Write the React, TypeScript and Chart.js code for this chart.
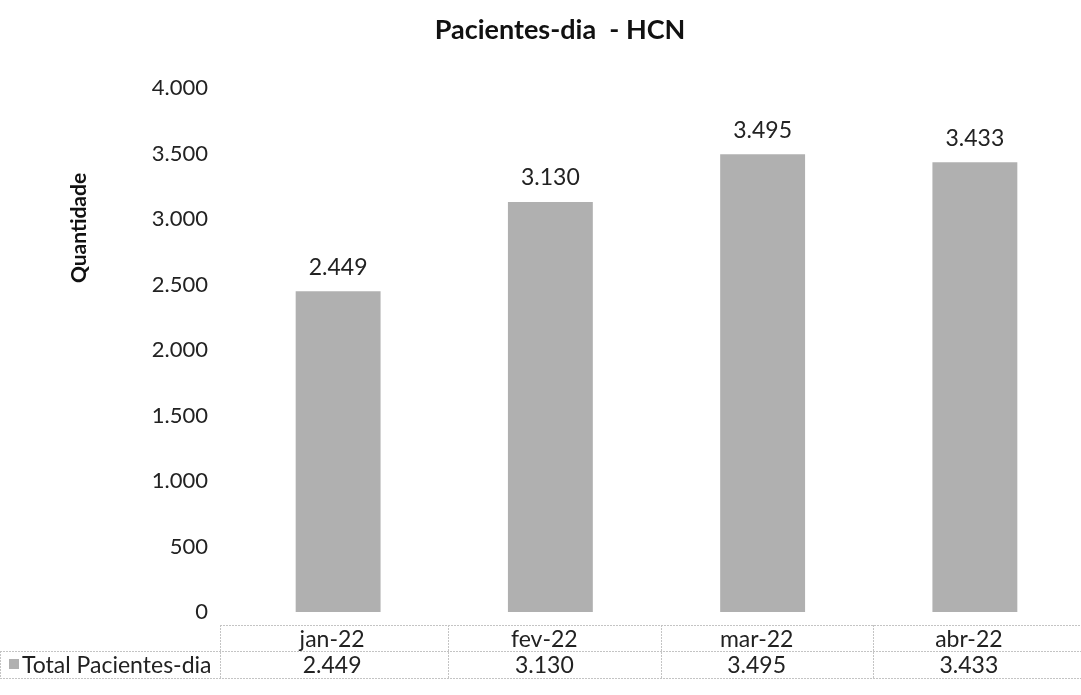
import React, { useEffect, useRef } from "react";
import { Chart, registerables } from "chart.js";

Chart.register(...registerables);

const categories = ["jan-22", "fev-22", "mar-22", "abr-22"];
const seriesName = "Total Pacientes-dia";
const values = [2449, 3130, 3495, 3433];
const titleText = "Pacientes-dia  - HCN";
const yAxisTitle = "Quantidade";
const yMax = 4000;
const yStep = 500;

const FONT = "Lato, 'Open Sans', 'DejaVu Sans', sans-serif";
const BAR = "#b0b0b0";

const fmt = (v: number) => {
  const s = Math.round(v).toString();
  return s.replace(/\B(?=(\d{3})+(?!\d))/g, ".");
};

const overlay = {
  id: "overlay",
  afterDraw(chart: any) {
    const { ctx, chartArea, width } = chart;
    const meta = chart.getDatasetMeta(0);
    const xs = chart.scales.x;
    ctx.save();
    // title
    ctx.fillStyle = "#111";
    ctx.font = `bold 27px ${FONT}`;
    ctx.textAlign = "center";
    ctx.textBaseline = "middle";
    ctx.fillText(titleText, 560, 30);
    // y title
    ctx.save();
    ctx.translate(79, 228);
    ctx.rotate(-Math.PI / 2);
    ctx.font = `bold 21px ${FONT}`;
    ctx.fillText(yAxisTitle, 0, 0);
    ctx.restore();
    // data labels
    ctx.font = `23px ${FONT}`;
    ctx.fillStyle = "#222";
    meta.data.forEach((el: any, i: number) => {
      ctx.fillText(fmt(values[i]), el.x, el.y - 24);
    });
    // table
    const step = (chartArea.right - chartArea.left) / categories.length;
    const yTop = 625, yMid = 651, yBot = 678;
    ctx.strokeStyle = "#c4c4c4";
    ctx.lineWidth = 1;
    ctx.setLineDash([2, 1]);
    ctx.beginPath();
    ctx.moveTo(chartArea.left - 12, yTop + 0.5);
    ctx.lineTo(width, yTop + 0.5);
    ctx.moveTo(0, yMid + 0.5);
    ctx.lineTo(width, yMid + 0.5);
    ctx.moveTo(0, yBot + 0.5);
    ctx.lineTo(width, yBot + 0.5);
    for (let i = 0; i < categories.length; i++) {
      const x = Math.round(chartArea.left + step * i + (i === 0 ? -12 : 4)) + 0.5;
      ctx.moveTo(x, yTop);
      ctx.lineTo(x, yBot);
    }
    ctx.moveTo(0.5, yMid);
    ctx.lineTo(0.5, yBot);
    ctx.stroke();
    ctx.setLineDash([]);
    ctx.fillStyle = "#222";
    ctx.font = `23px ${FONT}`;
    categories.forEach((c, i) => {
      const cx = xs.getPixelForValue(i) - 6;
      ctx.fillText(c, cx, (yTop + yMid) / 2 + 2);
      ctx.fillText(fmt(values[i]), cx, (yMid + yBot) / 2 + 1);
    });
    // legend key
    ctx.fillStyle = BAR;
    ctx.fillRect(9, 659, 10, 10);
    ctx.fillStyle = "#222";
    ctx.textAlign = "left";
    ctx.fillText(seriesName, 22, (yMid + yBot) / 2 + 1);
    ctx.restore();
  },
};

export default function App() {
  const ref = useRef<HTMLCanvasElement | null>(null);
  useEffect(() => {
    if (!ref.current) return;
    const chart = new Chart(ref.current, {
      type: "bar",
      data: {
        labels: categories,
        datasets: [
          {
            label: seriesName,
            data: values,
            backgroundColor: BAR,
            barPercentage: 0.4,
            categoryPercentage: 1,
          },
        ],
      },
      options: {
        animation: false,
        responsive: false,
        maintainAspectRatio: false,
        layout: { padding: { top: 88, bottom: 83, left: 0, right: -8 } },
        plugins: {
          legend: { display: false },
          title: { display: false },
          tooltip: { enabled: false },
        },
        scales: {
          x: { display: false },
          y: {
            min: 0,
            max: yMax,
            grid: { display: false, drawTicks: false },
            border: { display: false },
            afterFit(scale: any) {
              scale.width = 232;
            },
            ticks: {
              stepSize: yStep,
              padding: 24,
              color: "#222",
              font: { family: FONT, size: 22 },
              callback: (v: any) => fmt(Number(v)),
            },
          },
        },
      },
      plugins: [overlay],
    });
    return () => chart.destroy();
  }, []);
  return (
    <div style={{ position: "fixed", left: 0, top: 0, width: 1081, height: 695, background: "#fff" }}>
      <canvas ref={ref} width={1081} height={695} />
    </div>
  );
}
